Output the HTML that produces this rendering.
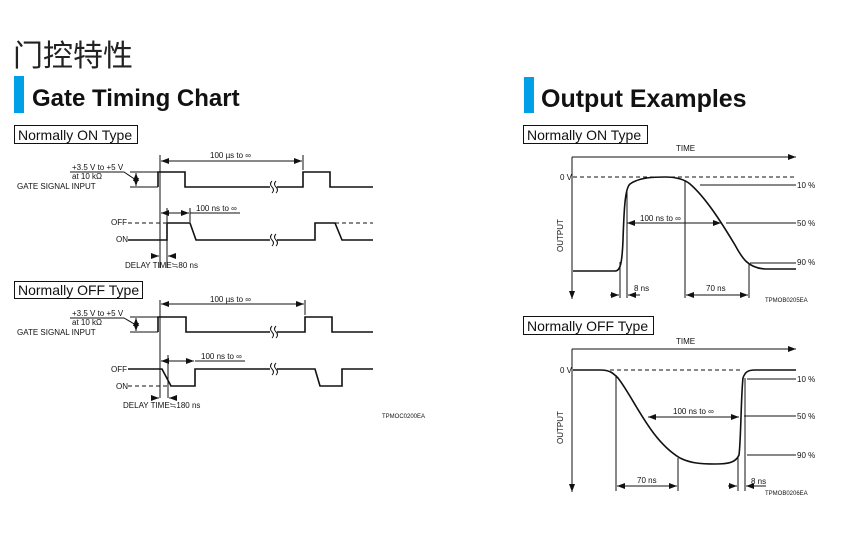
<!DOCTYPE html>
<html><head><meta charset="utf-8"><style>
html,body{margin:0;padding:0;background:#fff;}
svg{display:block;}
text{font-family:"Liberation Sans",Arial,sans-serif;fill:#111;}
.s{font-size:8px;}
.l{stroke:#111;stroke-width:1;fill:none;}
.t{stroke:#111;stroke-width:1.6;fill:none;}
.d{stroke:#111;stroke-width:1;stroke-dasharray:4,3;fill:none;}
</style></head><body>
<svg width="842" height="546" viewBox="0 0 842 546" xmlns="http://www.w3.org/2000/svg">
<defs>
<marker id="a" markerWidth="8" markerHeight="6" refX="8" refY="3" orient="auto-start-reverse" markerUnits="userSpaceOnUse"><path d="M0,0 L8,3 L0,6 z" fill="#111"/></marker>
</defs>
<text x="13" y="66" style="font-family:'Liberation Sans','Noto Sans CJK SC',sans-serif;font-size:30px;fill:#222">门控特性</text>
<rect x="14" y="76" width="10" height="37" fill="#00a0e9"/>
<text x="32" y="106" style="font-size:24px;font-weight:bold">Gate Timing Chart</text>
<rect x="524" y="77" width="10" height="36" fill="#00a0e9"/>
<text x="541" y="107" style="font-size:25px;font-weight:bold">Output Examples</text>

<!-- Normally ON Left -->
<rect x="14.5" y="125.5" width="123" height="18" fill="none" stroke="#111"/>
<text x="18" y="140" style="font-size:14px">Normally ON Type</text>
<text x="72" y="170" class="s">+3.5 V to +5 V</text>
<text x="72" y="179" class="s">at 10 kΩ</text>
<text x="17" y="189" class="s">GATE SIGNAL INPUT</text>
<path class="l" d="M70,172 H124 L136,180"/>
<path class="l" d="M130,172 H158 M130,187 H158"/>
<path class="l" d="M136,173 V186" marker-start="url(#a)" marker-end="url(#a)"/>
<path class="t" d="M158,187 V172 H185 V187 H270 M277,187 H303 V172 H330 V187 H373"/>
<path class="l" d="M272,181 q-3,3 0,6 q3,3 0,6 M276,181 q-3,3 0,6 q3,3 0,6"/>
<path class="l" d="M160,155 V268"/>
<path class="l" d="M303,155 V170"/>
<path class="l" d="M161,161 H302" marker-start="url(#a)" marker-end="url(#a)"/>
<text x="210" y="158" class="s">100 µs to ∞</text>
<text x="111" y="225" class="s">OFF</text>
<text x="116" y="242" class="s">ON</text>
<path class="d" d="M128,223 H166"/>
<path class="t" d="M128,240 H167 V223 H190 L196,240 H270 M277,240 H315 V223 H335 L342,240 H373"/>
<path class="d" d="M335,223 H373"/>
<path class="l" d="M272,234 q-3,3 0,6 q3,3 0,6 M276,234 q-3,3 0,6 q3,3 0,6"/>
<path class="l" d="M167,208 V268 M190,208 V222"/>
<path class="l" d="M161,213 H189" marker-start="url(#a)" marker-end="url(#a)"/>
<path class="l" d="M190,213 H240"/>
<text x="196" y="211" class="s">100 ns to ∞</text>
<path class="l" d="M151,256 H159" marker-end="url(#a)"/>
<path class="l" d="M176,256 H168" marker-end="url(#a)"/>
<text x="125" y="268" class="s">DELAY TIME≒80 ns</text>

<!-- Normally OFF Left -->
<rect x="14.5" y="281.5" width="128" height="17" fill="none" stroke="#111"/>
<text x="18" y="295" style="font-size:14px">Normally OFF Type</text>
<text x="72" y="316" class="s">+3.5 V to +5 V</text>
<text x="72" y="325" class="s">at 10 kΩ</text>
<text x="17" y="335" class="s">GATE SIGNAL INPUT</text>
<path class="l" d="M70,318 H124 L136,325"/>
<path class="l" d="M130,317 H158 M130,332 H158"/>
<path class="l" d="M136,318 V331" marker-start="url(#a)" marker-end="url(#a)"/>
<path class="t" d="M158,332 V317 H186 V332 H270 M277,332 H305 V317 H332 V332 H373"/>
<path class="l" d="M272,326 q-3,3 0,6 q3,3 0,6 M276,326 q-3,3 0,6 q3,3 0,6"/>
<path class="l" d="M160,300 V398"/>
<path class="l" d="M305,300 V315"/>
<path class="l" d="M161,304 H304" marker-start="url(#a)" marker-end="url(#a)"/>
<text x="210" y="302" class="s">100 µs to ∞</text>
<text x="111" y="372" class="s">OFF</text>
<text x="116" y="389" class="s">ON</text>
<path class="d" d="M128,386 H171"/>
<path class="t" d="M128,369 H162 L171,386 H195 V369 H270 M277,369 H315 L320,386 H342 V369 H373"/>
<path class="l" d="M272,363 q-3,3 0,6 q3,3 0,6 M276,363 q-3,3 0,6 q3,3 0,6"/>
<path class="l" d="M168,355 V398"/>
<path class="l" d="M161,361 H194" marker-start="url(#a)" marker-end="url(#a)"/>
<path class="l" d="M195,361 H245"/>
<text x="201" y="359" class="s">100 ns to ∞</text>
<path class="l" d="M151,398 H159" marker-end="url(#a)"/>
<path class="l" d="M177,398 H169" marker-end="url(#a)"/>
<text x="123" y="408" class="s">DELAY TIME≒180 ns</text>
<text x="382" y="418" style="font-size:6px">TPMOC0200EA</text>

<!-- Right ON -->
<rect x="523.5" y="125.5" width="124" height="18" fill="none" stroke="#111"/>
<text x="527" y="140" style="font-size:14px">Normally ON Type</text>
<text x="676" y="151" class="s">TIME</text>
<path class="l" d="M572,157 H796" marker-end="url(#a)"/>
<path class="l" d="M572,157 V299" marker-end="url(#a)"/>
<text x="560" y="180" class="s">0 V</text>
<path class="d" d="M573,177 H796"/>
<text transform="translate(563,252) rotate(-90)" class="s">OUTPUT</text>
<path class="t" d="M573,271 H615 C620,271 622,265 623,240 C624,210 625,188 630,184 C640,177 655,177 665,177 C676,177 684,179 690,184 C705,197 720,220 735,245 C742,258 748,268 765,269 H796"/>
<path class="l" d="M700,185 H796 M726,223 H796 M750,263 H796"/>
<text x="797" y="188" class="s">10 %</text>
<text x="797" y="226" class="s">50 %</text>
<text x="797" y="265" class="s">90 %</text>
<path class="l" d="M627,223 H721" marker-start="url(#a)" marker-end="url(#a)"/>
<text x="640" y="221" class="s">100 ns to ∞</text>
<path class="l" d="M620,262 V298 M627,190 V298 M685,180 V298 M749,264 V298"/>
<path class="l" d="M610,295 H619" marker-end="url(#a)"/>
<path class="l" d="M640,295 H628" marker-end="url(#a)"/>
<text x="634" y="291" class="s">8 ns</text>
<path class="l" d="M686,295 H748" marker-start="url(#a)" marker-end="url(#a)"/>
<text x="706" y="291" class="s">70 ns</text>
<text x="765" y="302" style="font-size:6px">TPMOB0205EA</text>

<!-- Right OFF -->
<rect x="523.5" y="316.5" width="130" height="18" fill="none" stroke="#111"/>
<text x="527" y="331" style="font-size:14px">Normally OFF Type</text>
<text x="676" y="344" class="s">TIME</text>
<path class="l" d="M572,349 H796" marker-end="url(#a)"/>
<path class="l" d="M572,349 V492" marker-end="url(#a)"/>
<text x="560" y="373" class="s">0 V</text>
<path class="d" d="M610,370 H742"/>
<text transform="translate(563,444) rotate(-90)" class="s">OUTPUT</text>
<path class="t" d="M573,370 H600 C610,370 613,373 618,378 C635,400 650,440 680,458 C690,463 700,464 715,464 C730,464 736,462 739,455 C741,440 741,395 743,378 C745,372 748,370 755,370 H796"/>
<path class="l" d="M747,379 H796 M744,416 H796 M747,455 H796"/>
<text x="797" y="382" class="s">10 %</text>
<text x="797" y="419" class="s">50 %</text>
<text x="797" y="458" class="s">90 %</text>
<path class="l" d="M648,417 H739" marker-start="url(#a)" marker-end="url(#a)"/>
<text x="673" y="414" class="s">100 ns to ∞</text>
<path class="l" d="M616,375 V491 M678,458 V491 M738,457 V491 M745,378 V491"/>
<path class="l" d="M617,486 H677" marker-start="url(#a)" marker-end="url(#a)"/>
<text x="637" y="483" class="s">70 ns</text>
<path class="l" d="M728,486 H737" marker-end="url(#a)"/>
<path class="l" d="M766,486 H746" marker-end="url(#a)"/>
<text x="751" y="484" class="s">8 ns</text>
<text x="765" y="495" style="font-size:6px">TPMOB0206EA</text>
</svg>
</body></html>
